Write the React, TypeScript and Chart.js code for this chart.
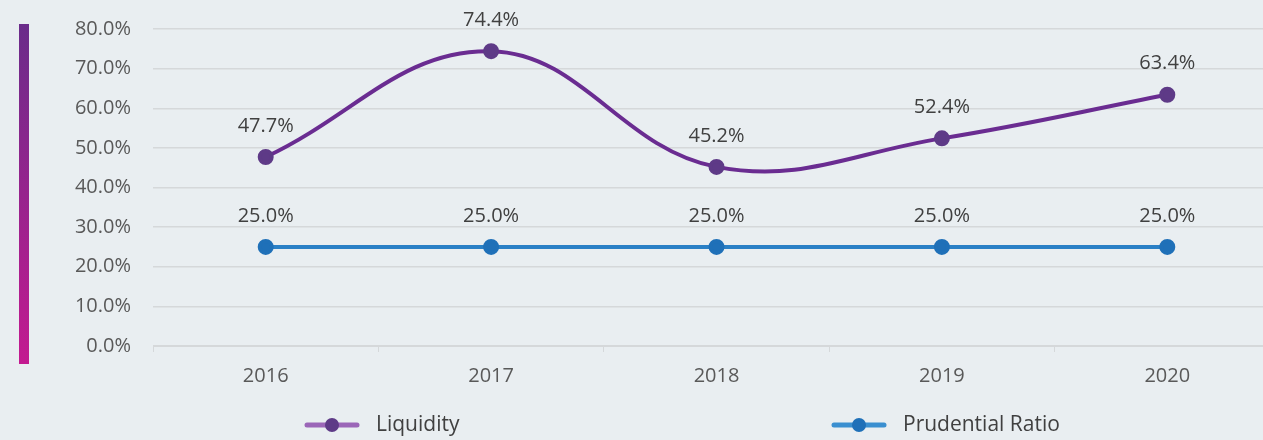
import React, { useEffect, useRef } from "react";
import { Chart, registerables } from "chart.js";

Chart.register(...registerables);

const years = ["2016", "2017", "2018", "2019", "2020"];
const liquidity = [47.7, 74.4, 45.2, 52.4, 63.4];
const prudential = [25.0, 25.0, 25.0, 25.0, 25.0];
const seriesNames = ["Liquidity", "Prudential Ratio"];

const FONT = "'Open Sans', 'DejaVu Sans', sans-serif";
const BG = "#e9eef1";
const PURPLE = "#6a2c91";
const PURPLE_PT = "#5e3a87";
const BLUE = "#2a80c6";
const BLUE_PT = "#1f70b8";

const decorPlugin = {
  id: "decor",
  beforeDraw(chart: any) {
    const ctx = chart.ctx;
    ctx.save();
    ctx.fillStyle = BG;
    ctx.fillRect(0, 0, chart.width, chart.height);
    const g = ctx.createLinearGradient(0, 24, 0, 364);
    g.addColorStop(0, "#6a2c8a");
    g.addColorStop(1, "#c31a90");
    ctx.fillStyle = g;
    ctx.fillRect(19, 24, 10, 340);
    ctx.restore();
  },
  afterDatasetsDraw(chart: any) {
    const ctx = chart.ctx;
    ctx.save();
    ctx.font = `20px ${FONT}`;
    ctx.fillStyle = "#404040";
    ctx.textAlign = "center";
    ctx.textBaseline = "middle";
    chart.data.datasets.forEach((ds: any, i: number) => {
      const meta = chart.getDatasetMeta(i);
      meta.data.forEach((pt: any, j: number) => {
        ctx.fillText(ds.data[j].toFixed(1) + "%", pt.x, pt.y - 31);
      });
    });
    // legend
    const items = [
      { x: 305, line: "#9b66b8", dot: PURPLE_PT, text: seriesNames[0] },
      { x: 832, line: "#3a8fd0", dot: BLUE_PT, text: seriesNames[1] },
    ];
    const ly = 425;
    ctx.font = `21px ${FONT}`;
    items.forEach((it) => {
      ctx.strokeStyle = it.line;
      ctx.lineWidth = 5;
      ctx.lineCap = "round";
      ctx.beginPath();
      ctx.moveTo(it.x + 2, ly);
      ctx.lineTo(it.x + 52, ly);
      ctx.stroke();
      ctx.fillStyle = it.dot;
      ctx.beginPath();
      ctx.arc(it.x + 27, ly, 7, 0, Math.PI * 2);
      ctx.fill();
      ctx.fillStyle = "#404040";
      ctx.textAlign = "left";
      ctx.fillText(it.text, it.x + 71, ly);
    });
    ctx.restore();
  },
};

export default function App() {
  const ref = useRef<HTMLCanvasElement>(null);
  useEffect(() => {
    const chart = new Chart(ref.current!, {
      type: "line",
      data: {
        labels: years,
        datasets: [
          {
            label: seriesNames[0],
            data: liquidity,
            borderColor: PURPLE,
            backgroundColor: PURPLE_PT,
            pointBackgroundColor: PURPLE_PT,
            pointBorderColor: PURPLE_PT,
            borderWidth: 4,
            pointRadius: 6,
            tension: 0.4,
          },
          {
            label: seriesNames[1],
            data: prudential,
            borderColor: BLUE,
            backgroundColor: BLUE_PT,
            pointBackgroundColor: BLUE_PT,
            pointBorderColor: BLUE_PT,
            borderWidth: 4,
            pointRadius: 6,
            tension: 0,
          },
        ],
      },
      options: {
        responsive: false,
        animation: false,
        layout: { padding: { left: 0, right: 9, top: 29, bottom: 0 } },
        plugins: { legend: { display: false }, tooltip: { enabled: false } },
        scales: {
          x: {
            offset: true,
            grid: {
              offset: true,
              drawOnChartArea: false,
              drawTicks: true,
              tickLength: 6,
              color: "#d5d8da",
            },
            border: { color: "#d5d8da", width: 1 },
            ticks: { color: "#595959", font: { family: FONT, size: 20 }, padding: 12 },
            afterFit: (s: any) => {
              s.height = 94;
              s.paddingLeft = 0;
              s.paddingRight = 0;
            },
          },
          y: {
            min: 0,
            max: 80,
            ticks: {
              stepSize: 10,
              color: "#595959",
              font: { family: FONT, size: 20 },
              padding: 22,
              callback: (v: any) => Number(v).toFixed(1) + "%",
            },
            grid: { color: "#d5d8da", drawTicks: false, lineWidth: 1.5 },
            border: { display: false },
            afterFit: (s: any) => {
              s.width = 153;
              s.paddingTop = 0;
              s.paddingBottom = 0;
            },
          },
        },
      },
      plugins: [decorPlugin],
    });
    return () => chart.destroy();
  }, []);
  return (
    <div
      style={{
        position: "fixed",
        left: 0,
        top: 0,
        width: 1263,
        height: 440,
        overflow: "hidden",
        background: BG,
      }}
    >
      <canvas ref={ref} width={1290} height={440} style={{ display: "block" }} />
    </div>
  );
}
